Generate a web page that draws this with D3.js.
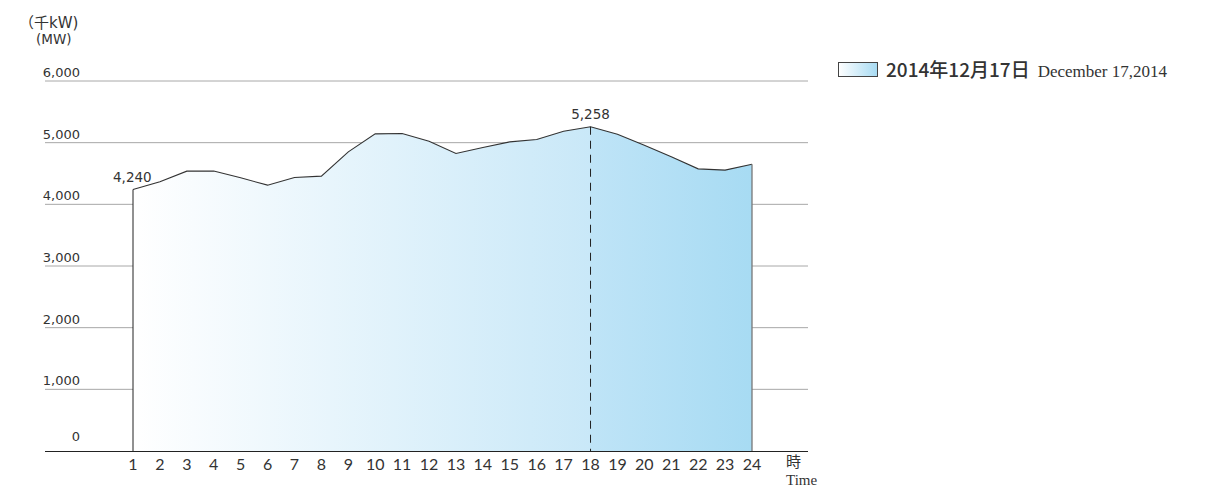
<!DOCTYPE html>
<html>
<head>
<meta charset="utf-8">
<script src="https://cdnjs.cloudflare.com/ajax/libs/d3/7.8.5/d3.min.js"></script>
<style>
  body { margin: 0; background: #fff; }
  svg text { fill: #333; }
</style>
</head>
<body>
<div class="canvas"></div>
<script>
// data
const hours = d3.range(1, 25);
const demand = [4240, 4365, 4538, 4540, 4430, 4311, 4436, 4457, 4851, 5143, 5149, 5024,
  4825, 4922, 5013, 5051, 5186, 5258, 5138, 4960, 4770, 4575, 4555, 4651];
const yTicks = [0, 1000, 2000, 3000, 4000, 5000, 6000];
const peakHour = 18;
const legendJa = '2014年12月17日';
const legendEn = 'December 17,2014';

const dims = { width: 1214, height: 488, numFont: 'DejaVu Sans' };

const svg = d3.select('.canvas')
  .append('svg')
  .attr('width', dims.width)
  .attr('height', dims.height)
  .attr('font-family', "Lato, 'Noto Sans CJK JP', sans-serif");

// scales
const x = d3.scaleLinear().domain([1, 24]).range([133, 752]);
const y = d3.scaleLinear().domain([0, 6000]).range([451, 81]);

// gradient fill
const defs = svg.append('defs');
const grad = defs.append('linearGradient')
  .attr('id', 'fillGrad')
  .attr('gradientUnits', 'userSpaceOnUse')
  .attr('x1', x(1)).attr('x2', x(24)).attr('y1', 0).attr('y2', 0);
grad.append('stop').attr('offset', 0).attr('stop-color', '#ffffff');
grad.append('stop').attr('offset', 0.739).attr('stop-color', '#c9e8f8');
grad.append('stop').attr('offset', 0.739).attr('stop-color', '#bfe4f7');
grad.append('stop').attr('offset', 1).attr('stop-color', '#a7dbf3');

const legGrad = defs.append('linearGradient').attr('id', 'legGrad');
legGrad.append('stop').attr('offset', 0).attr('stop-color', '#ffffff');
legGrad.append('stop').attr('offset', 1).attr('stop-color', '#a7dbf3');

// gridlines
svg.append('g')
  .selectAll('line')
  .data(yTicks.filter((d) => d > 0))
  .enter()
  .append('line')
  .attr('x1', 45).attr('x2', 808)
  .attr('y1', (d) => y(d)).attr('y2', (d) => y(d))
  .attr('stroke', '#a8a8a8')
  .attr('stroke-width', 1);

// y labels (0 sits a bit higher above the axis)
svg.append('g')
  .selectAll('text')
  .data(yTicks)
  .enter()
  .append('text')
  .attr('x', 80)
  .attr('y', (d) => (d === 0 ? y(d) - 10 : y(d) - 4))
  .attr('text-anchor', 'end')
  .attr('font-family', dims.numFont)
  .attr('font-size', 13)
  .text((d) => d3.format(',')(d));

// area
const area = d3.area()
  .x((d, i) => x(hours[i]))
  .y0(y(0))
  .y1((d) => y(d));

svg.append('path')
  .datum(demand)
  .attr('d', area)
  .attr('fill', 'url(#fillGrad)');

const line = d3.line()
  .x((d, i) => x(hours[i]))
  .y((d) => y(d));

svg.append('path')
  .datum(demand)
  .attr('d', line)
  .attr('fill', 'none')
  .attr('stroke', '#333')
  .attr('stroke-width', 1.1);

// left and right edges
svg.append('line')
  .attr('x1', x(1)).attr('x2', x(1))
  .attr('y1', y(demand[0])).attr('y2', y(0))
  .attr('stroke', '#222').attr('stroke-width', 1);
svg.append('line')
  .attr('x1', x(24)).attr('x2', x(24))
  .attr('y1', y(demand[23])).attr('y2', y(0))
  .attr('stroke', '#777').attr('stroke-width', 1.3);

// peak dashed line
const peakVal = demand[peakHour - 1];
svg.append('line')
  .attr('x1', x(peakHour)).attr('x2', x(peakHour))
  .attr('y1', y(peakVal)).attr('y2', y(0))
  .attr('stroke', '#222')
  .attr('stroke-width', 1)
  .attr('stroke-dasharray', '8,6');

// baseline
svg.append('line')
  .attr('x1', 45).attr('x2', 808)
  .attr('y1', y(0) + 0.5).attr('y2', y(0) + 0.5)
  .attr('stroke', '#222').attr('stroke-width', 1.2);

// value labels
svg.append('text')
  .attr('x', x(1) - 20).attr('y', y(demand[0]) - 8)
  .attr('font-family', dims.numFont)
  .attr('font-size', 13.5)
  .text(d3.format(',')(demand[0]));
svg.append('text')
  .attr('x', x(peakHour)).attr('y', y(peakVal) - 8)
  .attr('text-anchor', 'middle')
  .attr('font-family', dims.numFont)
  .attr('font-size', 13.5)
  .text(d3.format(',')(peakVal));

// x labels
svg.append('g')
  .selectAll('text')
  .data(hours)
  .enter()
  .append('text')
  .attr('x', (d) => x(d))
  .attr('y', 470)
  .attr('text-anchor', 'middle')
  .attr('font-size', 16)
  .text((d) => d);

svg.append('text')
  .attr('x', 786).attr('y', 467)
  .attr('font-size', 15)
  .text('時');
svg.append('text')
  .attr('x', 786).attr('y', 485)
  .attr('font-size', 15)
  .attr('font-family', 'Liberation Serif')
  .text('Time');

// units
svg.append('text')
  .attr('x', 19).attr('y', 28)
  .attr('font-family', "'DejaVu Sans', 'Noto Sans CJK JP'")
  .attr('font-size', 15)
  .text('（千kW)');
svg.append('text')
  .attr('x', 36).attr('y', 44)
  .attr('font-family', dims.numFont)
  .attr('font-size', 13.5)
  .text('(MW)');

// legend
svg.append('rect')
  .attr('x', 838.5).attr('y', 62.5)
  .attr('width', 39).attr('height', 14)
  .attr('fill', 'url(#legGrad)')
  .attr('stroke', '#444');
const leg = svg.append('text')
  .attr('x', 886).attr('y', 76.5)
  .attr('font-size', 19);
leg.append('tspan')
  .attr('font-weight', 500)
  .attr('font-family', 'Noto Sans CJK JP')
  .text(legendJa);
leg.append('tspan')
  .attr('dx', 8)
  .attr('font-size', 17)
  .attr('font-family', 'Liberation Serif')
  .text(legendEn);
</script>
</body>
</html>
